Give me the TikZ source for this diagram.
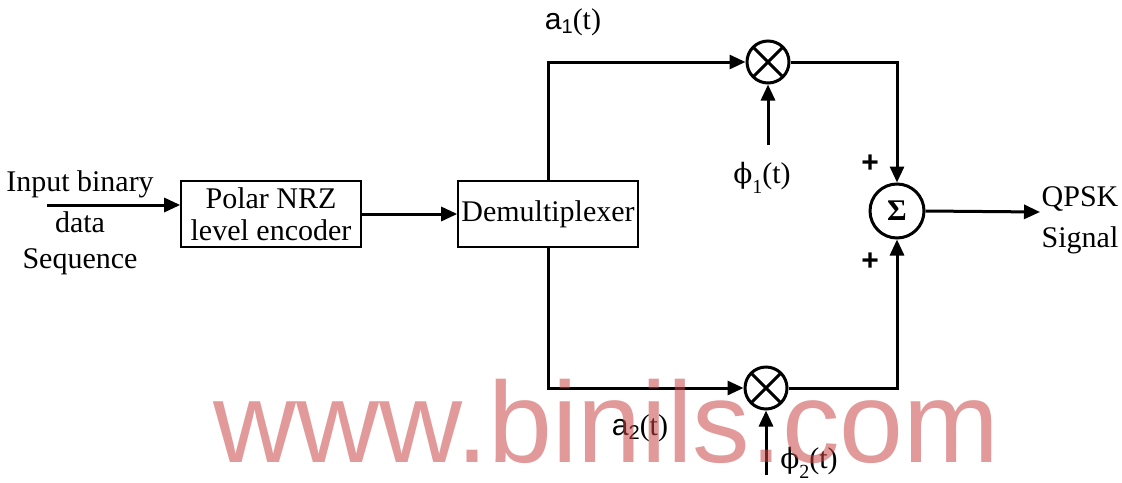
\documentclass[tikz,border=0pt]{standalone}
\usepackage{fontspec}
\setmainfont{Liberation Serif}
\newfontfamily\arialf{Liberation Sans}
\newfontfamily\dejaserif{DejaVu Serif}
\usetikzlibrary{arrows.meta,calc}
\definecolor{wmcol}{RGB}{200,70,70}
\begin{document}
\begin{tikzpicture}[x=0.5pt,y=-0.5pt,
  every node/.style={font=\fontsize{15}{17}\selectfont, inner sep=0pt},
  blk/.style={draw, line width=0.8pt, minimum width=90pt, minimum height=33pt},
  mult/.style={draw, circle, line width=1.5pt, minimum size=21pt,
    path picture={\draw[line width=1.5pt] (path picture bounding box.north west) -- (path picture bounding box.south east)
      (path picture bounding box.north east) -- (path picture bounding box.south west);}},
  summer/.style={draw, circle, line width=1.5pt, minimum size=27pt},
  wire/.style={line width=1.5pt},
  arr/.style={wire, -{Triangle[length=8pt,width=7pt]}}
]
\useasboundingbox (0,0) rectangle (1122,482);

% blocks
\node[blk, align=center] (polar) at (271,214) {Polar NRZ\\[-1pt]level encoder};
\node[blk] (demux) at (548,214) {Demultiplexer};
\node[mult] (m1) at (768,62) {};
\node[mult] (m2) at (766,388) {};
\node[summer] (sum) at (897,211) {\bfseries Σ};

% texts
\node (t1) at (80,184) {Input binary};
\node (t2) at (80,222) {data};
\node (t3) at (80,262) {Sequence};
\node (q1) at (1080,199) {QPSK};
\node (q2) at (1080,240) {Signal};
\node (a1) at (573,22) {{\arialf a\raisebox{-0.25ex}{\fontsize{10}{10}\selectfont 1}}(t)};
\node (a2) at (640,428) {{\arialf a\raisebox{-0.25ex}{\fontsize{10}{10}\selectfont 2}}(t)};
\node (f1) at (762,178) {{\dejaserif\fontsize{14}{14}\selectfont ϕ}\raisebox{-0.7ex}{\fontsize{10}{10}\selectfont 1}(t)};
\node (f2) at (809,463) {{\dejaserif\fontsize{14}{14}\selectfont ϕ}\raisebox{-0.7ex}{\fontsize{10}{10}\selectfont 2}(t)};
\node (pl1) at (870,164) {\arialf\bfseries +};
\node (pl2) at (870,262) {\arialf\bfseries +};

% free ends
\coordinate (inS) at (47,205);
\coordinate (outE) at (1040,212);
\coordinate (p1) at (768,145);
\coordinate (p2) at (766,475);

% connectors
\draw[arr] (inS) -- (inS -| polar.west);
\draw[arr] (polar.east) -- (demux.west);
\draw[arr] (demux.north) |- (m1.west);
\draw[arr] (demux.south) |- (m2.west);
\draw[arr] (p1) -- (m1.south);
\draw[arr] (p2) -- (m2.south);
\draw[arr] (m1.east) -| (sum.north);
\draw[arr] (m2.east) -| (sum.south);
\draw[arr] (sum.east) -- (outE);

% watermark
\node[anchor=base west, text=wmcol, opacity=0.55, font=\arialf\fontsize{57.5}{60}\selectfont] (wm) at (213,462) {www.binils.com};
\end{tikzpicture}
\end{document}
